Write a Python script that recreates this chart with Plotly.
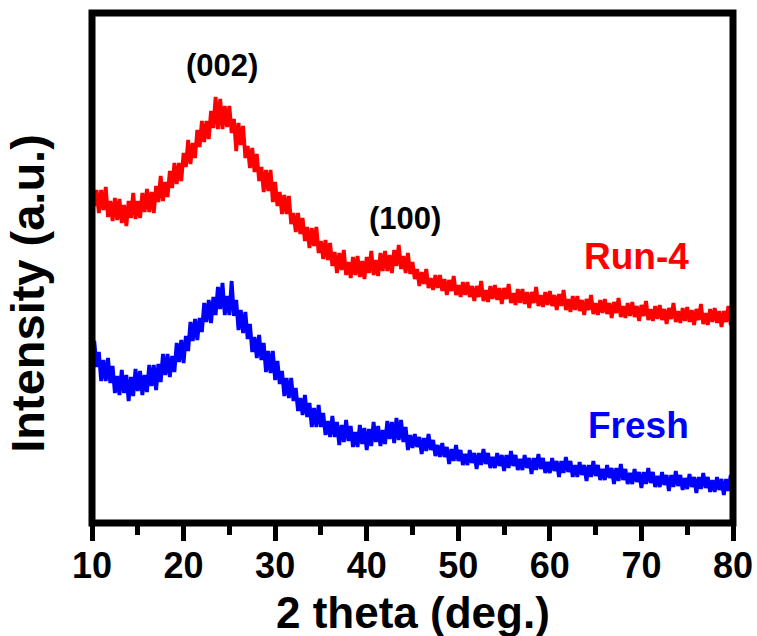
import plotly.graph_objects as go

# 2-theta sampling step of 0.25 deg from 10 to 80
two_theta = [10 + 0.25 * i for i in range(281)]

run4 = [
    343, 317, 333, 310, 333, 313, 336, 306, 322, 302, 325, 303,
    324, 300, 318, 297, 322, 305, 330, 304, 322, 305, 330, 311,
    334, 311, 331, 310, 337, 321, 347, 322, 341, 326, 352, 335,
    360, 339, 360, 342, 370, 356, 383, 359, 380, 365, 393, 376,
    402, 381, 402, 384, 412, 395, 426, 394, 424, 394, 417, 396,
    417, 390, 404, 372, 400, 378, 397, 365, 377, 355, 375, 351,
    369, 342, 356, 331, 353, 332, 353, 321, 341, 317, 331, 309,
    328, 309, 327, 299, 310, 291, 310, 289, 305, 282, 296, 275,
    295, 277, 296, 270, 282, 264, 283, 263, 280, 257, 271, 250,
    270, 253, 273, 248, 261, 245, 266, 248, 267, 246, 262, 244,
    266, 250, 272, 248, 263, 247, 270, 252, 272, 252, 268, 250,
    273, 257, 278, 254, 267, 250, 270, 249, 261, 244, 254, 237,
    251, 239, 254, 235, 245, 233, 248, 235, 248, 232, 244, 228,
    243, 232, 247, 228, 238, 226, 241, 228, 241, 226, 237, 222,
    237, 226, 242, 222, 233, 221, 237, 224, 238, 223, 235, 219,
    235, 224, 239, 220, 230, 218, 234, 220, 234, 219, 231, 215,
    231, 220, 236, 217, 228, 216, 231, 218, 232, 217, 228, 213,
    229, 217, 233, 213, 224, 211, 227, 213, 227, 212, 223, 208,
    224, 213, 228, 209, 220, 208, 223, 210, 224, 209, 220, 205,
    221, 210, 225, 206, 217, 205, 220, 207, 221, 206, 217, 202,
    218, 207, 222, 203, 214, 202, 217, 204, 218, 203, 214, 199,
    215, 204, 220, 201, 212, 200, 215, 202, 216, 201, 213, 198,
    214, 203, 219, 199, 210, 198, 214, 201, 215, 200, 212, 196,
    212, 201, 217, 198, 209,
]

fresh = [
    161, 182, 156, 171, 142, 163, 142, 165, 140, 157, 130, 147,
    128, 153, 130, 148, 122, 146, 127, 154, 132, 152, 128, 148,
    131, 158, 137, 158, 133, 159, 141, 169, 148, 169, 146, 167,
    151, 180, 161, 183, 160, 187, 172, 201, 182, 204, 183, 205,
    191, 220, 201, 223, 200, 226, 208, 236, 214, 240, 208, 227,
    208, 242, 207, 223, 193, 213, 190, 211, 184, 199, 171, 186,
    165, 188, 163, 180, 151, 172, 150, 172, 143, 162, 139, 152,
    127, 145, 125, 145, 122, 135, 112, 125, 108, 128, 106, 120,
    96, 115, 96, 118, 96, 110, 88, 102, 86, 107, 86, 101,
    78, 98, 81, 103, 82, 97, 76, 91, 76, 98, 79, 95,
    73, 94, 77, 101, 81, 97, 77, 93, 79, 102, 84, 101,
    80, 105, 83, 103, 81, 96, 73, 88, 75, 89, 76, 86,
    69, 85, 72, 89, 73, 83, 67, 78, 66, 80, 66, 76,
    59, 74, 62, 78, 62, 73, 58, 69, 58, 73, 60, 70,
    54, 70, 58, 74, 59, 70, 55, 66, 55, 70, 57, 68,
    52, 68, 55, 72, 57, 68, 53, 64, 53, 68, 55, 65,
    49, 65, 53, 69, 54, 65, 50, 61, 50, 65, 52, 62,
    46, 62, 50, 66, 51, 62, 46, 58, 46, 61, 48, 58,
    42, 58, 46, 62, 47, 58, 43, 54, 43, 58, 45, 55,
    39, 55, 42, 59, 43, 54, 39, 50, 39, 54, 41, 51,
    35, 51, 39, 55, 40, 51, 36, 47, 36, 51, 38, 48,
    32, 48, 36, 52, 37, 48, 33, 45, 34, 49, 36, 46,
    30, 46, 34, 50, 35, 46, 31, 43, 31, 46, 33, 44,
    28, 44, 32, 48, 33,
]

x_ticks = [10, 20, 30, 40, 50, 60, 70, 80]
peak_labels = ["(002)", "(100)"]
peak_pos = [(24.2, 458), (44.2, 305)]
series_labels = ["Run-4", "Fresh"]
series_label_pos = [(69.5, 267), (69.7, 98)]
series_colors = ["#FF0000", "#0000FF"]

FONT = "Arial, Liberation Sans, sans-serif"

fig = go.Figure()
fig.add_trace(go.Scatter(x=two_theta, y=run4, mode="lines",
                         line=dict(color=series_colors[0], width=3.8),
                         showlegend=False))
fig.add_trace(go.Scatter(x=two_theta, y=fresh, mode="lines",
                         line=dict(color=series_colors[1], width=3.8),
                         showlegend=False))

for txt, (px, py) in zip(peak_labels, peak_pos):
    fig.add_annotation(x=px, y=py, text="<b>%s</b>" % txt, showarrow=False,
                       font=dict(family=FONT, size=31, color="black"))
for txt, (px, py), c in zip(series_labels, series_label_pos, series_colors):
    fig.add_annotation(x=px, y=py, text="<b>%s</b>" % txt, showarrow=False,
                       font=dict(family=FONT, size=37, color=c))

# y-axis title
fig.add_annotation(xref="paper", yref="paper", x=-0.101, y=0.45,
                   text="<b>Intensity (a.u.)</b>", showarrow=False, textangle=-90,
                   font=dict(family=FONT, size=47, color="black"),
                   xanchor="center", yanchor="middle")
# x-axis title
fig.add_annotation(xref="paper", yref="paper", x=0.5, y=-0.175,
                   text="<b>2 theta (deg.)</b>", showarrow=False,
                   font=dict(family=FONT, size=44, color="black"),
                   xanchor="center", yanchor="middle")

# frame
fig.add_shape(type="rect", xref="paper", yref="paper", x0=0, y0=0, x1=1, y1=1,
              line=dict(color="black", width=7), layer="above")

fig.update_layout(
    width=757, height=636,
    margin=dict(l=92, r=24, t=13, b=113, autoexpand=False),
    plot_bgcolor="white", paper_bgcolor="white",
    font=dict(family=FONT, color="black"),
    xaxis=dict(range=[10, 80], tickvals=x_ticks, ticktext=["<b>%d</b>" % v for v in x_ticks],
               ticks="outside", ticklen=17, tickwidth=5, tickcolor="black",
               ticklabelstandoff=-6, automargin=False,
               ticklabeloverflow="allow",
               minor=dict(ticks="outside", ticklen=11, tickwidth=5, tickcolor="black", dtick=5, tick0=10),
               showgrid=False, zeroline=False, showline=False,
               tickfont=dict(family=FONT, size=36, color="black")),
    yaxis=dict(range=[0, 510], showticklabels=False, ticks="", showgrid=False,
               zeroline=False, showline=False, automargin=False),
)

fig.write_html("out.html")
